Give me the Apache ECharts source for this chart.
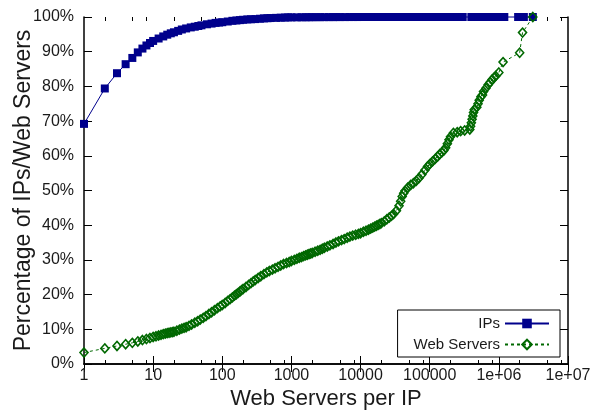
<!DOCTYPE html>
<html>
<head>
<meta charset="utf-8">
<script src="https://cdn.jsdelivr.net/npm/echarts@6/dist/echarts.min.js"></script>
<style>
  html, body { margin: 0; padding: 0; background: #fff; }
  #chart { width: 598px; height: 414px; }
</style>
</head>
<body>
<div id="chart"></div>
<script>
// servers per IP (x) and cumulative percentage (y)
const ipCounts = [1, 2, 3, 4, 5, 6, 7, 8, 9,
  10, 12, 14, 16, 18, 20, 23, 26, 30, 35, 40, 45, 50, 60, 70, 80, 90,
  100, 120, 140, 160, 180, 200, 230, 260, 300, 350, 400, 450, 500, 600, 700, 800, 900,
  1000, 1200, 1400, 1600, 1800, 2000, 2300, 2600, 3000, 3500, 4000, 4500, 5000, 6000, 7000, 8000, 9000,
  10000, 12000, 14000, 16000, 18000, 20000, 23000, 26000, 30000, 35000, 40000, 45000, 50000, 60000, 70000, 80000, 90000,
  100000, 120000, 140000, 160000, 180000, 200000, 250000, 300000, 400000, 500000, 600000, 700000, 800000, 900000,
  1000000, 1100000, 1200000, 1900000, 2300000, 3100000]
const ipPct = [69.2, 79.4, 83.8, 86.4, 88.2, 89.8, 90.9, 91.8, 92.5,
  93.1, 93.8, 94.4, 94.9, 95.3, 95.6, 96.0, 96.4, 96.7, 97.0, 97.2, 97.4, 97.6, 97.9, 98.1, 98.3, 98.4,
  98.5, 98.7, 98.9, 99.0, 99.1, 99.2, 99.3, 99.35, 99.4, 99.5, 99.6, 99.65, 99.7, 99.75, 99.8, 99.85, 99.9,
  99.9, 99.9, 99.92, 99.93, 99.94, 99.95, 99.95, 99.96, 99.96, 99.97, 99.97, 99.98, 99.98, 99.98, 99.99, 99.99, 99.99,
  100, 100, 100, 100, 100, 100, 100, 100, 100, 100, 100, 100, 100, 100, 100, 100, 100,
  100, 100, 100, 100, 100, 100, 100, 100, 100, 100, 100, 100, 100, 100,
  100, 100, 100, 100, 100, 100]

const webCounts = [1, 2, 3, 4, 5, 6, 7, 8, 9,
  10, 11, 12, 13, 14, 15, 16, 17, 18, 19, 20, 22, 24, 26, 28, 30, 33, 36, 40, 44, 48, 53, 58, 64, 70, 77, 85, 93,
  100, 110, 120, 130, 140, 150, 160, 170, 180, 190, 200, 220, 240, 260, 280, 300, 330, 360, 400, 440, 480, 530, 580, 640, 700, 770, 850, 930,
  1000, 1100, 1200, 1300, 1400, 1500, 1600, 1700, 1800, 1900, 2000, 2200, 2400, 2600, 2800, 3000, 3300, 3600, 4000, 4400, 4800, 5300, 5800, 6400, 7000, 7700, 8500, 9300,
  10000, 11000, 12000, 13000, 14000, 15000, 16000, 17000, 18000, 19000, 20000, 22000, 24000, 26000, 28000, 30000, 33000, 36000, 38000, 40000, 42000, 44000, 48000, 53000, 58000, 64000, 70000, 77000, 85000, 93000,
  100000, 110000, 120000, 130000, 140000, 150000, 160000, 170000, 180000, 190000, 200000, 220000, 250000, 280000, 320000,
  380000, 390000, 400000, 410000, 420000, 430000, 440000, 480000, 500000, 520000, 550000, 580000,
  600000, 650000, 700000, 750000, 800000, 850000, 900000, 1000000, 1150000, 2000000, 2200000, 3100000]
const webPct = [3.3, 4.5, 5.2, 5.7, 6.1, 6.5, 6.9, 7.2, 7.5,
  7.8, 8.0, 8.2, 8.4, 8.6, 8.75, 8.9, 9.0, 9.1, 9.2, 9.3, 9.6, 9.9, 10.2, 10.4, 10.6, 11.0, 11.4, 11.9, 12.3, 12.8, 13.3, 13.8, 14.4, 14.9, 15.5, 16.1, 16.6,
  17.0, 17.6, 18.2, 18.7, 19.2, 19.7, 20.1, 20.5, 20.9, 21.3, 21.6, 22.2, 22.8, 23.3, 23.8, 24.2, 24.8, 25.3, 25.9, 26.4, 26.8, 27.2, 27.6, 28.0, 28.4, 28.8, 29.1, 29.4,
  29.7, 30.0, 30.3, 30.6, 30.8, 31.1, 31.3, 31.5, 31.7, 31.85, 32.0, 32.35, 32.65, 32.9, 33.2, 33.5, 33.85, 34.2, 34.6, 35.0, 35.35, 35.7, 36.0, 36.4, 36.7, 37.0, 37.25, 37.5,
  37.7, 38.1, 38.4, 38.7, 39.0, 39.3, 39.6, 39.85, 40.1, 40.35, 40.6, 41.1, 41.7, 42.2, 42.7, 43.2, 44.2, 45.6, 46.9, 48.3, 49.2, 49.9, 50.8, 51.6, 52.1, 52.8, 53.6, 54.6, 55.8, 56.9,
  57.6, 58.4, 59.1, 59.8, 60.5, 61.0, 61.5, 62.3, 63.5, 64.6, 65.5, 66.6, 66.8, 67.1, 67.3,
  67.6, 68.5, 69.5, 70.5, 71.5, 72.5, 73.3, 74.0, 75.0, 76.0, 77.0, 77.5,
  78.5, 79.5, 80.5, 81.2, 82.0, 82.5, 83.0, 84.0, 87.0, 89.7, 95.5, 100]

const xTickLabels = ['1', '10', '100', '1000', '10000', '100000', '1e+06', '1e+07']
const xMinorTicks = [2, 5, 8, 20, 50, 80, 200, 500, 800, 2000, 5000, 8000,
  20000, 50000, 80000, 200000, 500000, 800000, 2000000, 5000000, 8000000]

const FONT = '"Liberation Sans", Arial, sans-serif'
const INK = '#1a1a1a'
const BLUE = '#00008c'
const GREEN = '#006800'

const myChart = echarts.init(document.getElementById('chart'), null, { renderer: 'canvas' })

function mirrorX(position, ticks, len) {
  return {
    type: 'log', logBase: 10, min: 1, max: 1e7, position: position,
    axisLine: { show: false },
    axisTick: { show: true, inside: true, length: len, customValues: ticks, lineStyle: { color: '#000', width: 1 } },
    axisLabel: { show: false },
    splitLine: { show: false }
  }
}

const option = {
  animation: false,
  grid: { left: 84, right: 30, top: 17, bottom: 50, outerBoundsMode: 'none' },
  legend: {
    orient: 'vertical',
    right: 38,
    top: 310,
    align: 'right',
    itemWidth: 44,
    itemHeight: 12,
    itemGap: 6,
    padding: [6, 10, 5, 16],
    borderColor: '#000',
    borderWidth: 1,
    borderRadius: 0,
    backgroundColor: '#fff',
    selectedMode: false,
    textStyle: { fontFamily: FONT, fontSize: 15, color: INK, width: 91 },
    data: ['IPs', 'Web Servers']
  },
  xAxis: [
    {
      type: 'log', logBase: 10, min: 1, max: 1e7,
      name: 'Web Servers per IP',
      nameLocation: 'middle',
      nameGap: 24,
      nameMoveOverlap: false,
      nameTextStyle: { fontFamily: FONT, fontSize: 22, color: INK },
      axisLine: { show: true, lineStyle: { color: '#000', width: 1.5 } },
      axisTick: { show: true, inside: true, length: 8, lineStyle: { color: '#000', width: 1 } },
      axisLabel: {
        margin: 4,
        fontFamily: FONT, fontSize: 16, color: INK,
        formatter: function (v) { return xTickLabels[Math.round(Math.log10(v))] }
      },
      splitLine: { show: false }
    },
    {
      type: 'log', logBase: 10, min: 1, max: 1e7, position: 'top',
      axisLine: { show: true, lineStyle: { color: '#000', width: 1.5 } },
      axisTick: { show: true, inside: true, length: 8, lineStyle: { color: '#000', width: 1 } },
      axisLabel: { show: false },
      splitLine: { show: false }
    },
    mirrorX('bottom', xMinorTicks, 4),
    mirrorX('top', xMinorTicks, 4)
  ],
  yAxis: [
    {
      type: 'value', min: 0, max: 100, interval: 10,
      name: 'Percentage of IPs/Web Servers',
      nameLocation: 'middle',
      nameGap: 49,
      nameMoveOverlap: false,
      nameTextStyle: { fontFamily: FONT, fontSize: 23, color: INK },
      axisLine: { show: true, lineStyle: { color: '#000', width: 1.5 } },
      axisTick: { show: true, inside: true, length: 8, lineStyle: { color: '#000', width: 1 } },
      axisLabel: { margin: 10, fontFamily: FONT, fontSize: 16, color: INK, formatter: '{value}%' },
      splitLine: { show: false }
    },
    {
      type: 'value', min: 0, max: 100, interval: 10, position: 'right',
      axisLine: { show: true, lineStyle: { color: '#000', width: 1.5 } },
      axisTick: { show: true, inside: true, length: 8, lineStyle: { color: '#000', width: 1 } },
      axisLabel: { show: false },
      splitLine: { show: false }
    }
  ],
  series: [
    {
      name: 'IPs',
      type: 'line',
      data: ipCounts.map((c, i) => [c, ipPct[i]]),
      symbol: 'rect',
      symbolSize: 8,
      showAllSymbol: true,
      clip: false,
      itemStyle: { color: BLUE },
      lineStyle: { color: BLUE, width: 1 },
      emphasis: { disabled: true }
    },
    {
      name: 'Web Servers',
      type: 'line',
      data: webCounts.map((c, i) => [c, webPct[i]]),
      symbol: 'diamond',
      symbolSize: [8, 9],
      showAllSymbol: true,
      clip: false,
      itemStyle: { color: 'rgba(255,255,255,0)', borderColor: GREEN, borderWidth: 1.6 },
      lineStyle: { color: GREEN, width: 1, type: [3, 3] },
      emphasis: { disabled: true }
    }
  ]
}

option && myChart.setOption(option)
</script>
</body>
</html>
